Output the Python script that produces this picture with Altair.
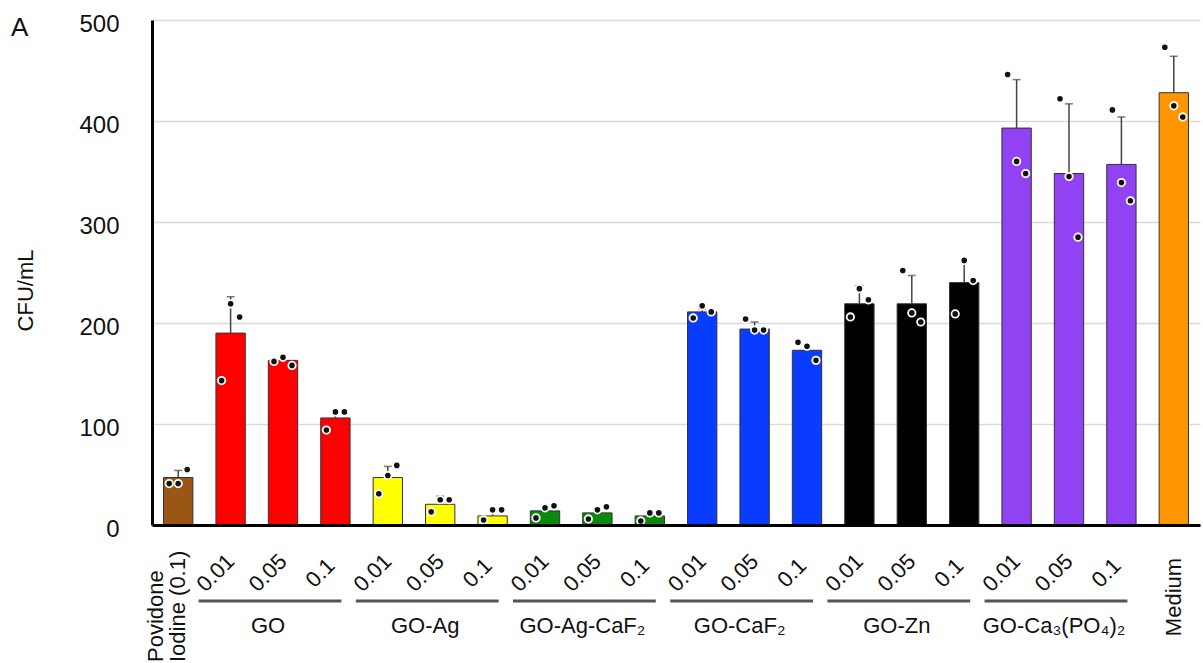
import altair as alt
import pandas as pd

FONT = "Liberation Sans"

# Treatment groups, concentrations (mg/mL) and bar colours
groups = ["Povidone Iodine (0.1)", "GO", "GO-Ag", "GO-Ag-CaF₂", "GO-CaF₂",
          "GO-Zn", "GO-Ca₃(PO₄)₂", "Medium"]
group_colors = ["#9A5614", "#FF0000", "#FFFF00", "#0A8A0A", "#0A3CFF",
                "#000000", "#9142F2", "#FF9500"]
concentrations = ["0.01", "0.05", "0.1"]

# Mean CFU/mL per bar, upper error (SD) and the three replicate counts
means = [47,
         190, 163, 106,
         47, 20.5, 9,
         14, 12, 9,
         211, 194, 173,
         219, 219, 240,
         393, 348, 357,
         428]
errors = [7,
          36, 3, 6,
          11, 8, 5,
          3, 4, 2,
          3, 7, 5,
          18, 28, 22,
          48, 69, 47,
          36]
replicates = [[41, 41, 55],
              [143, 219, 206], [162, 166, 158], [94, 112, 112],
              [31, 49, 59], [13, 25, 25], [5, 15, 15],
              [7, 17, 19], [6, 15, 18], [4, 12, 12],
              [205, 217, 211], [204, 193, 193], [181, 177, 163],
              [206, 234, 223], [252, 210, 201], [209, 262, 242],
              [446, 360, 348], [422, 345, 285], [411, 339, 321],
              [473, 415, 404]]

# One bar per (group, concentration); the controls have no concentration
bar_group, bar_conc = [], []
for g in groups:
    if g in ("Povidone Iodine (0.1)", "Medium"):
        bar_group.append(g)
        bar_conc.append("")
    else:
        for c in concentrations:
            bar_group.append(g)
            bar_conc.append(c)
ids = [f"{g} {c}".strip() for g, c in zip(bar_group, bar_conc)]

bars_df = pd.DataFrame({"id": ids, "group": bar_group, "conc": bar_conc,
                        "mean": means,
                        "upper": [m + e for m, e in zip(means, errors)]})
points_df = pd.DataFrame([{"id": i, "rep": k, "value": v}
                          for i, reps in zip(ids, replicates)
                          for k, v in enumerate(reps)])
conc_df = bars_df[bars_df["conc"] != ""]
treated = [g for g in groups if g not in ("Povidone Iodine (0.1)", "Medium")]
span_df = pd.DataFrame({
    "group": treated,
    "start": [f"{g} {concentrations[0]}" for g in treated],
    "end": [f"{g} {concentrations[-1]}" for g in treated],
    "mid": [f"{g} {concentrations[1]}" for g in treated],
})

W, H = 1048, 505
x_scale = alt.Scale(domain=ids, paddingInner=0.44, paddingOuter=0.22)
x_enc = alt.X("id:N", sort=ids, scale=x_scale,
              axis=alt.Axis(labels=False, ticks=False, title=None, grid=False,
                            domainColor="#000000", domainWidth=3, zindex=1))
y_scale = alt.Scale(domain=[0, 500], nice=False)
y_axis = alt.Axis(values=[0, 100, 200, 300, 400, 500], grid=True,
                  gridColor="#dadada", gridWidth=1.5, ticks=False,
                  domainColor="#000000", domainWidth=3,
                  labelFontSize=24, labelPadding=33, labelColor="#111111",
                  labelFont=FONT, labelFlush=False, labelOffset=4,
                  title="CFU/mL", titleFont=FONT, titleFontSize=22,
                  titleFontWeight="normal", titleColor="#111111",
                  titleX=-127, titleY=270, titleAlign="center",
                  titleBaseline="middle", zindex=0)

bars = alt.Chart(bars_df).mark_bar(stroke="#333333", strokeWidth=1).encode(
    x=x_enc,
    y=alt.Y("mean:Q", scale=y_scale, axis=y_axis, title="CFU/mL"),
    color=alt.Color("group:N", scale=alt.Scale(domain=groups, range=group_colors),
                    legend=None),
)

err_rule = alt.Chart(bars_df).mark_rule(color="#444444", strokeWidth=1.5).encode(
    x="id:N", y=alt.Y("mean:Q", title="CFU/mL"), y2="upper:Q")
err_cap = alt.Chart(bars_df).mark_tick(color="#444444", thickness=1.5, size=8,
                                       orient="horizontal").encode(
    x="id:N", y=alt.Y("upper:Q", title="CFU/mL"))

# Replicates: left, middle and right of each bar
point_layers = []
for rep, dx in zip(range(3), (-9, 0, 9)):
    point_layers.append(
        alt.Chart(points_df[points_df["rep"] == rep]).mark_circle(
            color="#111111", stroke="#ffffff", strokeWidth=1.8, size=55,
            opacity=1, xOffset=dx
        ).encode(x="id:N", y=alt.Y("value:Q", title="CFU/mL"))
    )

# Category labels below the axis
conc_labels = alt.Chart(conc_df).mark_text(
    angle=315, align="center", baseline="middle", font=FONT, fontSize=22,
    color="#111111", xOffset=-15
).encode(x="id:N", y=alt.value(553), text="conc:N")

povidone_label = alt.Chart(bars_df[bars_df["group"] == groups[0]]).mark_text(
    angle=270, align="left", baseline="middle", font=FONT, fontSize=22,
    lineBreak="\n", lineHeight=22, color="#111111", xOffset=-22
).encode(x="id:N", y=alt.value(642), text=alt.value("Povidone\nIodine (0.1)"))

medium_label = alt.Chart(bars_df[bars_df["group"] == "Medium"]).mark_text(
    angle=270, align="center", baseline="middle", font=FONT, fontSize=22,
    color="#111111"
).encode(x="id:N", y=alt.value(577), text="group:N")

group_lines = alt.Chart(span_df).mark_rule(
    color="#555555", strokeWidth=3, xOffset=-32, x2Offset=6
).encode(x="start:N", x2="end:N", y=alt.value(581))

group_labels = alt.Chart(span_df).mark_text(
    font=FONT, fontSize=22, baseline="middle", color="#111111", xOffset=-15
).encode(x="mid:N", y=alt.value(606), text="group:N")

panel_letter = alt.Chart(pd.DataFrame({"t": ["A"]})).mark_text(
    align="left", baseline="alphabetic", font=FONT, fontSize=26, color="#111111"
).encode(x=alt.value(-141), y=alt.value(16), text="t:N")

chart = alt.layer(
    bars, err_rule, err_cap, *point_layers, conc_labels, povidone_label,
    medium_label, group_lines, group_labels, panel_letter
).properties(
    width=W, height=H,
    autosize=alt.AutoSizeParams(type="none"),
    padding={"left": 152, "top": 20, "right": 3, "bottom": 138},
    background="#ffffff",
).configure_view(stroke=None)

chart.save("out.html", embed_options={"renderer": "svg", "actions": False})
